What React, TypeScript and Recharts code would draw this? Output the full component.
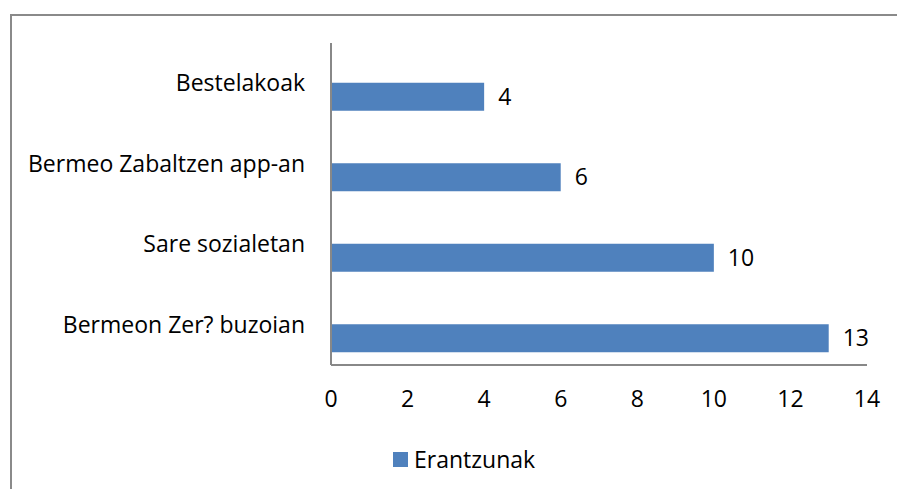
import React from 'react';
import { BarChart, Bar, XAxis, YAxis, LabelList, Legend } from 'recharts';

const categories = ['Bestelakoak', 'Bermeo Zabaltzen app-an', 'Sare sozialetan', 'Bermeon Zer? buzoian'];
const erantzunak = [4, 6, 10, 13];
// the original chart holds a second, empty series that shifts the visible bars within each band
const emptySeries: (number | null)[] = [null, null, null, null];
const xTicks = [0, 2, 4, 6, 8, 10, 12, 14];
const seriesName = 'Erantzunak';

const data = categories.map((name, i) => ({ name, empty: emptySeries[i], value: erantzunak[i] }));

const FONT = '"Open Sans", sans-serif';
const BLUE = '#4F81BD';
const AXIS = '#888888';

const renderLegend = (props: any) => {
  const items = (props.payload || []).filter((p: any) => p.type !== 'none');
  return (
    <div style={{ display: 'flex', alignItems: 'center', fontFamily: FONT, fontSize: 23, color: '#000' }}>
      {items.map((p: any) => (
        <div key={p.value} style={{ display: 'flex', alignItems: 'center' }}>
          <span style={{ display: 'inline-block', width: 15, height: 15, background: p.color, marginRight: 6 }} />
          <span style={{ lineHeight: '24px' }}>{p.value}</span>
        </div>
      ))}
    </div>
  );
};

export default function App() {
  return (
    <div
      style={{
        position: 'absolute',
        left: 10,
        top: 14,
        width: 885,
        height: 475,
        borderTop: '2px solid #8a8a8a',
        borderLeft: '2px solid #8a8a8a',
        background: '#fff',
        overflow: 'hidden',
      }}
    >
      <BarChart
        width={885}
        height={473}
        data={data}
        layout="vertical"
        margin={{ top: 27, right: 30, left: 19, bottom: 94 }}
        barCategoryGap="14.6%"
        barGap={0}
        style={{ fontFamily: FONT }}
      >
        <XAxis
          type="number"
          domain={[0, 14]}
          ticks={xTicks}
          interval={0}
          height={30}
          tickLine={false}
          tickSize={0}
          tickMargin={26}
          axisLine={{ stroke: AXIS, strokeWidth: 2 }}
          tick={{ fontSize: 23, fill: '#000', fontFamily: FONT }}
        />
        <YAxis
          type="category"
          dataKey="name"
          width={300}
          tickLine={false}
          tickSize={0}
          tickMargin={26}
          axisLine={{ stroke: AXIS, strokeWidth: 2 }}
          tick={{ fontSize: 23, fill: '#000', fontFamily: FONT }}
        />
        <Legend
          layout="horizontal"
          verticalAlign="middle"
          align="center"
          wrapperStyle={{ top: 431, left: 381, width: 'auto' }}
          content={renderLegend}
        />
        <Bar dataKey="empty" name="" fill={BLUE} legendType="none" isAnimationActive={false} />
        <Bar dataKey="value" name={seriesName} fill={BLUE} isAnimationActive={false}>
          <LabelList dataKey="value" position="right" offset={14} style={{ fontSize: 23, fill: '#000', fontFamily: FONT }} />
        </Bar>
      </BarChart>
    </div>
  );
}
